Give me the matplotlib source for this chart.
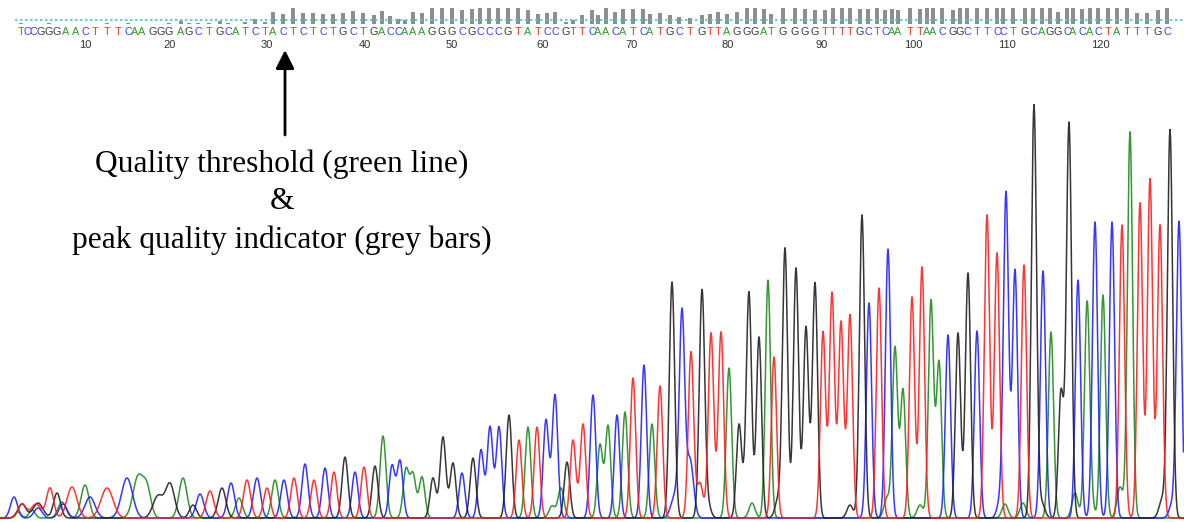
import numpy as np
import matplotlib.pyplot as plt

# base calls shown in the top strip
bases = "TCCGGGAACTTTCAAGGGAGCTGCATCTACTCTCTGCTGACCAAAGGGCGCCCGTATCCGTTCAACATCATGCTGTTAGGGATGGGGTTTTGCTCAATTAACGGCTTCCTGCAGGCACACTATTTGC"
base_x = [21, 27, 33, 41, 49, 57, 66, 76, 85, 95, 107, 118, 128, 135, 142, 153, 161, 169, 181, 189, 198, 209, 220, 228, 236, 245, 255, 265, 273, 283,
          293, 303, 313, 323, 333, 343, 353, 363, 374, 382, 390, 398, 405, 413, 422, 432, 442, 452, 462, 472, 480, 489, 498, 508, 518, 528, 538, 547, 555, 566, 573,
          582, 592, 598, 606, 615, 623, 633, 643, 650, 660, 670, 679, 690, 702, 710, 718, 727, 737, 747, 755, 764, 771, 783, 795, 805, 815, 825, 833, 842, 850, 860, 868, 877,
          885, 892, 898, 910, 920, 927, 933, 942, 953, 960, 967, 977, 987, 997, 1003, 1013, 1025, 1033, 1042, 1050, 1058, 1067, 1073, 1082, 1090, 1098, 1108, 1117, 1127, 1137, 1147, 1158, 1167]
quality = [5, 0, 0, 0, 5, 0, 0, 0, 0, 0, 5, 0, 5, 0, 0, 0, 0, 5, 12, 5, 5, 5, 12, 5, 0, 8, 16, 8, 43, 35,
           55, 37, 37, 35, 35, 37, 47, 37, 32, 47, 28, 16, 14, 43, 40, 55, 55, 55, 49, 51, 55, 55, 55, 55, 55, 49, 35, 40, 43, 8, 14,
           32, 49, 32, 55, 43, 51, 51, 51, 35, 40, 32, 23, 20, 32, 35, 43, 35, 43, 55, 55, 51, 35, 55, 55, 51, 49, 49, 55, 55, 55, 51, 51, 55,
           49, 51, 49, 55, 51, 55, 55, 55, 49, 55, 55, 55, 55, 55, 55, 55, 55, 55, 55, 55, 43, 55, 55, 51, 55, 55, 55, 55, 55, 37, 37, 49, 55]
threshold = 14
tick_labels = [10, 20, 30, 40, 50, 60, 70, 80, 90, 100, 110, 120]
tick_x = [85, 170, 267, 365, 452, 543, 632, 728, 822, 913, 1007, 1100]

# trace peaks: scan position, channel, height, width
trace_x = [14, 22, 22, 18, 32, 36, 38, 38, 50, 57, 62, 63, 72, 85, 90, 107, 127, 138, 147, 158, 170, 183, 193,
           200, 210, 222, 231, 239, 247, 257, 267, 275, 284, 294, 305, 314, 325, 334, 345, 355, 364, 375, 383, 392,
           400, 406, 413, 422, 433, 443, 453, 462, 473, 481, 490, 499, 509, 519, 528, 537, 546, 555, 567, 573, 583, 593,
           600, 608, 617, 625, 633, 644, 652, 660, 672, 682, 691, 702, 711, 721, 729, 739, 749, 759, 768, 774,
           785, 796, 806, 815, 823, 832, 841, 850, 862, 869, 879, 888, 895, 903, 912, 922, 931, 939, 948, 958, 968, 977,
           987, 997, 1006, 1015, 1024, 1034, 1043, 1051, 1061, 1069, 1078, 1087, 1095, 1103, 1112, 1122, 1130, 1140, 1150, 1160, 1170, 1179,
           552, 561, 675, 690, 700, 708, 745, 752, 778, 850, 887, 920, 1000, 1005, 1023, 1042, 1075, 1090, 1120, 1162, 1172]
trace_call = ("CTGAATGCTGACTACTCAAGGAG"
              "CTGCATCTACTCTCTGCTGAC"
              "CAAAGGGCGCCCGTATCCGTTC"
              "AACATCATGCTGTTAGGGAT"
              "GGGGTTTTGCTCAATTAACGGC"
              "TTCCTGCAGGCACACTATTTGC"
              "AACCTGGAGGAACAAGAAAGC")
trace_h = [21, 14, 14, 6, 8, 14, 15, 10, 30, 25, 16, 14, 31, 33, 21, 30, 40, 41, 28, 22, 34, 40, 13,
           24, 27, 30, 35, 20, 38, 40, 30, 38, 38, 40, 54, 38, 50, 46, 61, 46, 51, 52, 82, 52,
           57, 48, 43, 41, 40, 81, 55, 45, 60, 68, 91, 91, 103, 78, 91, 91, 98, 123, 56, 78, 94, 123,
           73, 92, 103, 106, 140, 153, 94, 132, 236, 201, 166, 227, 185, 186, 150, 92, 220, 181, 238, 161,
           269, 250, 191, 235, 186, 225, 196, 203, 303, 215, 230, 269, 170, 128, 221, 251, 217, 156, 183, 185, 245, 187,
           303, 265, 324, 248, 253, 413, 247, 186, 126, 395, 238, 205, 296, 223, 296, 293, 386, 315, 339, 293, 388, 296,
           12, 30, 22, 58, 35, 12, 15, 15, 18, 13, 20, 13, 16, 14, 15, 14, 25, 20, 31, 18, 13]
trace_w = [3.5, 4, 4, 3, 3, 5, 5, 4, 3.5, 3.5, 4, 4, 5, 4, 5, 6, 5.5, 5, 4, 5, 4.5, 4, 3.5,
           3.8, 3.8, 3.8, 3.5, 3.5, 3.5, 3.5, 3.3, 3.3, 3.3, 3.2, 3.1, 3.1, 3, 3, 3, 3, 3, 3, 3, 2.9,
           2.9, 2.9, 2.9, 2.9, 2.9, 2.9, 2.9, 2.9, 2.9, 2.8, 2.8, 2.8, 2.8, 2.8, 2.8, 2.8, 2.8, 2.8, 2.8, 2.8, 2.8, 2.8,
           2.7, 2.7, 2.7, 2.7, 2.7, 2.7, 2.7, 2.7, 2.7, 2.7, 2.7, 2.7, 2.7, 2.7, 2.7, 2.6, 2.6, 2.6, 2.6, 2.6,
           2.6, 2.6, 2.6, 2.6, 2.6, 2.6, 2.6, 2.6, 2.6, 2.6, 2.6, 2.6, 2.6, 2.6, 2.6, 2.6, 2.6, 2.6, 2.6, 2.6, 2.6, 2.6,
           2.6, 2.6, 2.6, 2.6, 2.6, 2.6, 2.6, 2.6, 2.6, 2.6, 2.6, 2.6, 2.6, 2.6, 2.6, 2.6, 2.6, 2.6, 2.6, 2.6, 2.6, 2.6,
           3, 3, 4, 3.5, 3, 3, 3, 3, 3, 3, 3, 3, 3, 3, 3, 3, 3, 3, 3, 3, 3]

base_colors = {"A": "#2e9a2e", "C": "#3c3cff", "G": "#3a3a3a", "T": "#ff2a2a"}
trace_colors = {"A": "#1e8c1e", "C": "#2020ff", "G": "#202020", "T": "#ff1e1e"}

W, H = 1184, 522
fig = plt.figure(figsize=(W / 100, H / 100), dpi=100)


def band(top, bottom):
    ax = fig.add_axes([0, 1 - bottom / H, 1, (bottom - top) / H])
    ax.set_xlim(0, W)
    ax.axis("off")
    ax.patch.set_alpha(0)
    return ax


# chromatogram
ax = band(60, 520)
ax.set_ylim(-2, 458)
xs = np.arange(0, W, 0.5)
tx = np.array(trace_x, dtype=float)
th = np.array(trace_h, dtype=float)
tw = np.array(trace_w, dtype=float)
calls = np.array(list(trace_call))
for ch in ["A", "C", "G", "T"]:
    m = calls == ch
    sig = (th[m][:, None] * np.exp(-(xs[None, :] - tx[m][:, None]) ** 2 / (2 * tw[m][:, None] ** 2))).sum(axis=0)
    ax.plot(xs, sig, color=trace_colors[ch], lw=1.1, alpha=0.9, clip_on=False)

# quality bars and threshold
axq = band(0, 24)
axq.set_ylim(0, 84)
axq.bar(base_x, quality, width=4, color="#8e8e8e", zorder=2)
axq.axhline(threshold, xmin=15 / W, color="#3ccccc", lw=1.2, ls=(0, (1.5, 1.5)), zorder=3)

# base letters and position numbers
axs = band(24, 60)
axs.set_ylim(60, 24)
for b, x in zip(bases, base_x):
    axs.text(x, 32, b, color=base_colors[b], ha="center", va="center", fontsize=7.8, family="Liberation Sans")
for lab, x in zip(tick_labels, tick_x):
    axs.text(x, 45, str(lab), color="#333333", ha="center", va="center", fontsize=8, family="Liberation Sans")

# annotation
axo = band(0, H)
axo.set_ylim(H, 0)
axo.annotate("", xy=(285, 50), xytext=(285, 135),
             arrowprops=dict(arrowstyle="-|>", color="black", lw=2, mutation_scale=28, shrinkA=0, shrinkB=0))
axo.text(282, 202, "Quality threshold (green line)\n&\npeak quality indicator (grey bars)",
         ha="center", va="center", fontsize=22.7, family="Liberation Serif", linespacing=1.4)

fig.savefig("out.png", dpi=100)
